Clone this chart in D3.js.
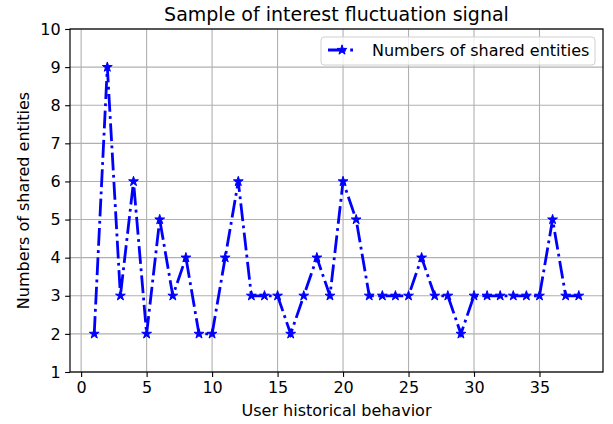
<!DOCTYPE html>
<html><head><meta charset="utf-8">
<script src="https://cdn.jsdelivr.net/npm/d3@7"></script>
<style>body{margin:0;background:#fff}svg{display:block;font-family:"DejaVu Sans",sans-serif}</style>
</head><body>
<script>
const xValues = [1,2,3,4,5,6,7,8,9,10,11,12,13,14,15,16,17,18,19,20,21,22,23,24,25,26,27,28,29,30,31,32,33,34,35,36,37,38];
const yValues = [2,9,3,6,2,5,3,4,2,2,4,6,3,3,3,2,3,4,3,6,5,3,3,3,3,4,3,3,2,3,3,3,3,3,3,5,3,3];
const xTicks = [0,5,10,15,20,25,30,35];
const yTicks = [1,2,3,4,5,6,7,8,9,10];
const titleText = "Sample of interest fluctuation signal";
const xLabel = "User historical behavior";
const yLabel = "Numbers of shared entities";
const seriesName = "Numbers of shared entities";

const W = 613, H = 424;
const m = {left:70, right:10, top:29, bottom:52};
const FS = "16px";
const svg = d3.select("body").append("svg").attr("width",W).attr("height",H);
const x = d3.scaleLinear().domain([-0.85, 39.85]).range([m.left, W-m.right]);
const y = d3.scaleLinear().domain([1, 10]).range([H-m.bottom, m.top]);

// grid
const g = svg.append("g");
g.selectAll(".gx").data(xTicks).join("line")
  .attr("x1",d=>x(d)).attr("x2",d=>x(d)).attr("y1",y(1)).attr("y2",y(10))
  .attr("stroke","#b0b0b0").attr("stroke-width",1.1);
g.selectAll(".gy").data(yTicks).join("line")
  .attr("y1",d=>y(d)).attr("y2",d=>y(d)).attr("x1",m.left).attr("x2",W-m.right)
  .attr("stroke","#b0b0b0").attr("stroke-width",1.1);

// axes
const xa = svg.append("g").attr("transform",`translate(0,${H-m.bottom})`)
  .call(d3.axisBottom(x).tickValues(xTicks).tickSize(4.9).tickPadding(4.5).tickSizeOuter(0));
const ya = svg.append("g").attr("transform",`translate(${m.left},0)`)
  .call(d3.axisLeft(y).tickValues(yTicks).tickSize(4.9).tickPadding(4.5).tickSizeOuter(0));
[xa,ya].forEach(a=>{
  a.select(".domain").remove();
  a.selectAll("text").attr("font-size",FS).attr("font-family","DejaVu Sans").attr("fill","#000");
  a.selectAll("line").attr("stroke","#000").attr("stroke-width",1.1);
});

// spines
svg.append("rect").attr("x",m.left).attr("y",m.top).attr("width",W-m.right-m.left).attr("height",H-m.bottom-m.top)
  .attr("fill","none").attr("stroke","#000").attr("stroke-width",1.2);

// line
const data = xValues.map((v,i)=>[v,yValues[i]]);
svg.append("path").datum(data)
  .attr("d", d3.line().x(d=>x(d[0])).y(d=>y(d[1])))
  .attr("fill","none").attr("stroke","#0000ff").attr("stroke-width",2.8)
  .attr("stroke-dasharray","17.8,4.4,2.8,4.4");

const star = d3.symbol().type(d3.symbolStar).size(30);
svg.selectAll(".pt").data(data).join("path")
  .attr("transform",d=>`translate(${x(d[0])},${y(d[1])})`)
  .attr("d",star).attr("fill","#0000ff").attr("stroke","#0000ff").attr("stroke-width",1);

// title & labels
svg.append("text").attr("x",(m.left+W-m.right)/2).attr("y",21).attr("text-anchor","middle")
  .attr("font-size","19px").text(titleText);
svg.append("text").attr("x",(m.left+W-m.right)/2).attr("y",416).attr("text-anchor","middle")
  .attr("font-size",FS).text(xLabel);
svg.append("text").attr("transform",`translate(29,${(m.top+H-m.bottom)/2}) rotate(-90)`).attr("text-anchor","middle")
  .attr("font-size",FS).text(yLabel);

// legend
const lg = svg.append("g");
lg.append("rect").attr("x",321).attr("y",37).attr("width",274).attr("height",28).attr("rx",3)
  .attr("fill","#fff").attr("fill-opacity",0.8).attr("stroke","#d0d0d0").attr("stroke-width",1);
lg.append("line").attr("x1",328).attr("x2",356).attr("y1",50).attr("y2",50)
  .attr("stroke","#0000ff").attr("stroke-width",2.8).attr("stroke-dasharray","17.8,4.4,2.8,4.4");
lg.append("path").attr("transform","translate(342,50)").attr("d",star).attr("fill","#0000ff").attr("stroke","#0000ff");
lg.append("text").attr("x",372).attr("y",56).attr("font-size",FS).text(seriesName);
</script>
</body></html>
